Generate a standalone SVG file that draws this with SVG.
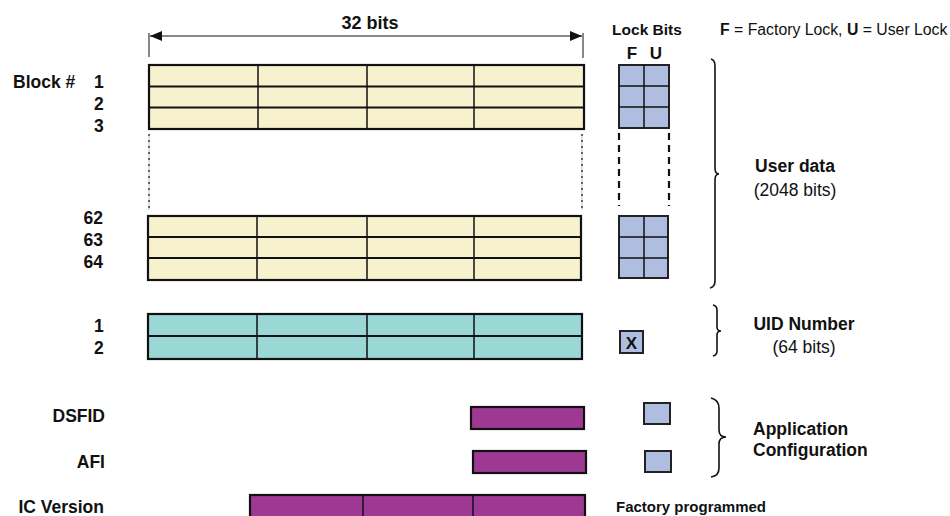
<svg xmlns="http://www.w3.org/2000/svg" width="950" height="516" viewBox="0 0 950 516">
<defs>
<style>
text{font-family:"Liberation Sans",Arial,sans-serif;fill:#111}
.b{font-weight:bold}
.lg{font-size:17.5px}
.cream{fill:#F8F1CD;stroke:#111;stroke-width:2.2}
.teal{fill:#9AD8D5;stroke:#111;stroke-width:2.2}
.purple{fill:#9E3892;stroke:#111;stroke-width:2.2}
.lock{fill:#AEBDE0;stroke:#222;stroke-width:2}
.ln{stroke:#111;stroke-width:1.8;fill:none}
.thin{stroke:#111;stroke-width:1.5;fill:none}
.brace{stroke:#111;stroke-width:1.6;fill:none}
.dot{stroke:#111;stroke-width:1.2;stroke-dasharray:2 4;fill:none}
.dotg{stroke:#ccc;stroke-width:1.2;fill:none}
.dash{stroke:#111;stroke-width:2.2;stroke-dasharray:7 5;fill:none}
</style>
<marker id="ah" viewBox="0 0 12 10" refX="12" refY="5" markerWidth="12" markerHeight="10" markerUnits="userSpaceOnUse" orient="auto-start-reverse">
<path d="M0,0 L12,5 L0,10 Z" fill="#111"/>
</marker>
</defs>

<g id="connectors">
<line x1="150" y1="36" x2="582" y2="36" stroke="#111" stroke-width="1.2" marker-start="url(#ah)" marker-end="url(#ah)"/>
<line x1="149" y1="33" x2="149" y2="57" stroke="#111" stroke-width="1"/>
<line x1="583" y1="33" x2="583" y2="58" stroke="#111" stroke-width="1"/>
<line class="dotg" x1="149" y1="134" x2="149" y2="210"/>
<line class="dot" x1="149" y1="134" x2="149" y2="210"/>
<line class="dotg" x1="582" y1="134" x2="582" y2="210"/>
<line class="dot" x1="582" y1="134" x2="582" y2="210"/>
<line class="dash" x1="619" y1="133" x2="619" y2="206"/>
<line class="dash" x1="669" y1="133" x2="669" y2="206"/>
<path class="brace" d="M711,59 Q715,60 715,66 L715,168 Q715,174 719,174 Q715,174 715,180 L715,281 Q715,287 710,288"/>
<path class="brace" d="M713,305 Q717,306 717,310 L717,327 Q717,331 721,331 Q717,331 717,335 L717,351 Q717,355 713,356"/>
<path class="brace" d="M711,398 Q719,400 719,408 L719,430 Q719,437 726,437 Q719,437 719,444 L719,468 Q719,476 711,477"/>
</g>

<g id="header">
<text class="b" x="370" y="29" font-size="18" text-anchor="middle">32 bits</text>
<text class="b" x="647" y="35" font-size="15.5" text-anchor="middle">Lock Bits</text>
<text class="b" x="632" y="59" font-size="17" text-anchor="middle">F</text>
<text class="b" x="656" y="59" font-size="17" text-anchor="middle">U</text>
<text x="720" y="35" font-size="15.8"><tspan class="b">F</tspan> = Factory Lock, <tspan class="b">U</tspan> = User Lock</text>
</g>

<g id="labels">
<text class="b lg" x="13" y="88">Block #</text>
<text class="b lg" x="94" y="88">1</text>
<text class="b lg" x="94" y="110">2</text>
<text class="b lg" x="94" y="132">3</text>
<text class="b lg" x="103" y="224" text-anchor="end">62</text>
<text class="b lg" x="103" y="246" text-anchor="end">63</text>
<text class="b lg" x="103" y="268" text-anchor="end">64</text>
<text class="b lg" x="94" y="332">1</text>
<text class="b lg" x="94" y="354">2</text>
<text class="b lg" x="105" y="422" text-anchor="end">DSFID</text>
<text class="b lg" x="105" y="468" text-anchor="end">AFI</text>
<text class="b lg" x="104" y="513" text-anchor="end">IC Version</text>
</g>

<g id="user-blocks-top">
<rect class="cream" x="149" y="65" width="435" height="64"/>
<path class="ln" d="M149,86.5 H584 M149,107.5 H584"/>
<path class="thin" d="M258,65 V129 M367,65 V129 M474,65 V129"/>
</g>

<g id="user-blocks-bottom">
<rect class="cream" x="148" y="216" width="433" height="64"/>
<path class="ln" d="M148,237 H581 M148,258 H581"/>
<path class="thin" d="M257,216 V280 M367,216 V280 M474,216 V280"/>
</g>

<g id="lock-top">
<rect class="lock" x="619" y="65" width="50" height="63"/>
<path class="thin" d="M619,86 H669 M619,107 H669 M644,65 V128"/>
</g>

<g id="lock-bottom">
<rect class="lock" x="619" y="216" width="49" height="62"/>
<path class="thin" d="M619,237 H668 M619,258 H668 M644,216 V278"/>
</g>

<g id="user-data-label">
<text class="b lg" x="795" y="172" text-anchor="middle">User data</text>
<text class="lg" x="795" y="196" text-anchor="middle">(2048 bits)</text>
</g>

<g id="uid-blocks">
<rect class="teal" x="148" y="314" width="434" height="45"/>
<path class="ln" d="M148,336 H582"/>
<path class="thin" d="M257,314 V359 M367,314 V359 M474,314 V359"/>
</g>

<g id="uid-lock">
<rect class="lock" x="620" y="331" width="23" height="22"/>
<text class="b" x="631.5" y="349" font-size="17" text-anchor="middle">X</text>
</g>

<g id="uid-label">
<text class="b lg" x="804" y="330" text-anchor="middle">UID Number</text>
<text class="lg" x="804" y="353" text-anchor="middle">(64 bits)</text>
</g>

<g id="dsfid">
<rect class="purple" x="471" y="407" width="113" height="22"/>
</g>
<g id="dsfid-lock">
<rect class="lock" x="644" y="403" width="26" height="21"/>
</g>

<g id="afi">
<rect class="purple" x="473" y="451" width="113" height="22"/>
</g>
<g id="afi-lock">
<rect class="lock" x="645" y="451" width="26" height="21"/>
</g>

<g id="app-config-label">
<text class="b lg" x="753" y="435">Application</text>
<text class="b lg" x="753" y="456">Configuration</text>
</g>

<g id="ic-version">
<rect class="purple" x="250" y="495" width="335" height="30"/>
<path class="thin" d="M363,495 V516 M473,495 V516"/>
</g>

<g id="factory-label">
<text class="b" x="616" y="512" font-size="15">Factory programmed</text>
</g>
</svg>
